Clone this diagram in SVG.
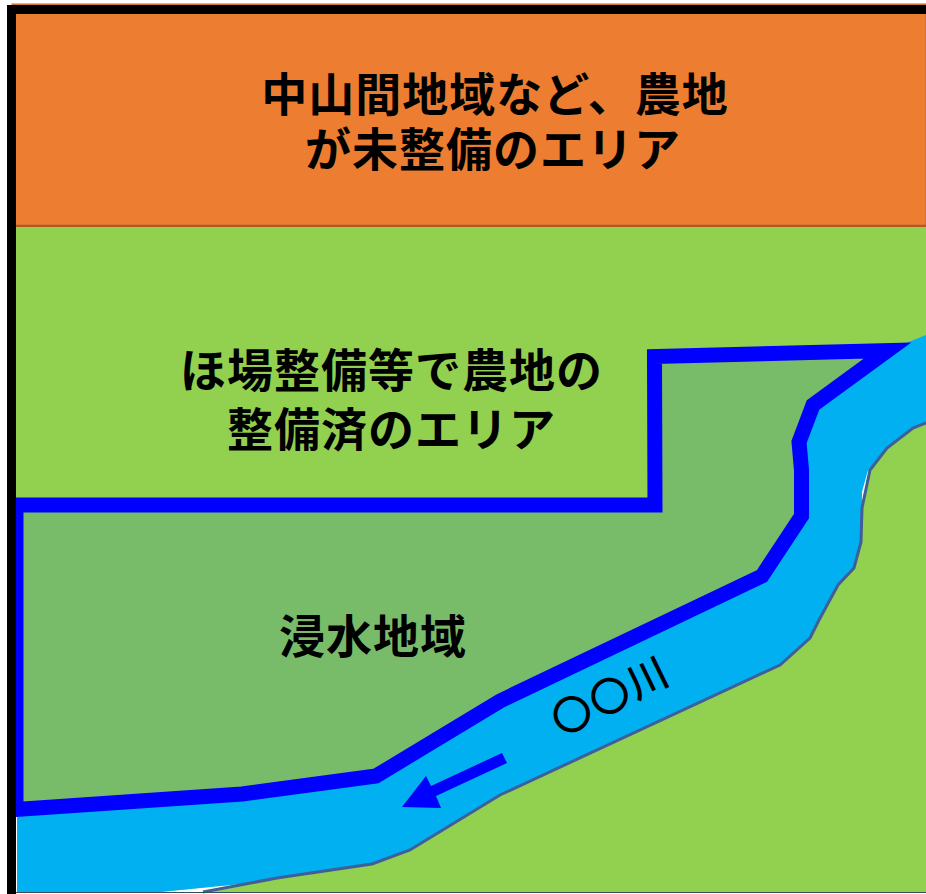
<svg xmlns="http://www.w3.org/2000/svg" width="926" height="894" viewBox="0 0 926 894">
<style>
text{font-family:"Noto Sans CJK JP","Noto Sans",sans-serif;font-weight:700;font-size:46px;letter-spacing:1px;fill:#000;text-anchor:middle}
</style>
<rect width="926" height="894" fill="#fff"/>
<g id="upland">
<rect x="12" y="4" width="914" height="222" fill="#ED7D31" stroke="#B8693A" stroke-width="1"/>
<path d="M16 226H926" stroke="#AE5A21" stroke-width="2.500"/>
<text x="495" y="111">中山間地域など、農地</text>
<text x="493" y="166">が未整備のエリア</text>
</g>
<g id="farmland">
<rect x="16" y="227" width="910" height="665" fill="#92D050"/>
<text x="391.500" y="387">ほ場整備等で農地の</text>
<text x="391.500" y="446">整備済のエリア</text>
</g>
<g id="flood-area">
<path id="flood-fill" d="M16 505H655L654.500 356.500L887.500 350.500L813 405L799 442L801.500 470V516L762 576L500 701L376 776L242 794L16 809Z" fill="#78BC6A"/>
<text x="373" y="653">浸水地域</text>
</g>
<g id="river">
<polygon points="16,817 17,817 17,892 16,892" fill="#fff"/>
<polygon points="160,892 240,884 203,892" fill="#fff"/>
<polygon points="862,474 870,470 862,510" fill="#fff"/>
<path d="M926 335L887.500 350.500L813 405L799 442L801.500 470V516L762 576L500 701L376 776L242 794L17 809V892H160L240 884L277 878L372 864L410 850L500 795L780 665L810 638L838 585L854 568L861 542L862 492L868 470L887 448L913 428L926 423Z" fill="#00B0F0"/>
<path d="M926 423L913 428L887 448L870 470L862 508L861 542L854 568L838 585L819 620L810 638L780 665L500 795L410 850L372 864L277 878L203 892" fill="none" stroke="#3F5F9A" stroke-width="3"/>
<text transform="translate(617 709) rotate(-26)" style="font-size:40px;font-weight:500;letter-spacing:2px">〇〇川</text>
</g>
<g id="connectors">
<path id="flow-arrow" d="M502 753L507 763L436 796L441 808L402 807L426 776L431 786Z" fill="#0000FF"/>
</g>
<g id="flood-boundary">
<path d="M16 505H655L654.500 356.500L887.500 350.500L813 405L799 442L801.500 470V516L762 576L500 701L376 776L242 794L16 809.500Z" fill="none" stroke="#0000FF" stroke-width="15" stroke-linejoin="miter" stroke-miterlimit="12"/>
</g>
<g id="frame">
<path d="M11.500 894V9.500H926" fill="none" stroke="#000" stroke-width="9"/>
<path d="M16 892.500H926" stroke="#2F4F5F" stroke-width="1.200"/>
</g>
</svg>
